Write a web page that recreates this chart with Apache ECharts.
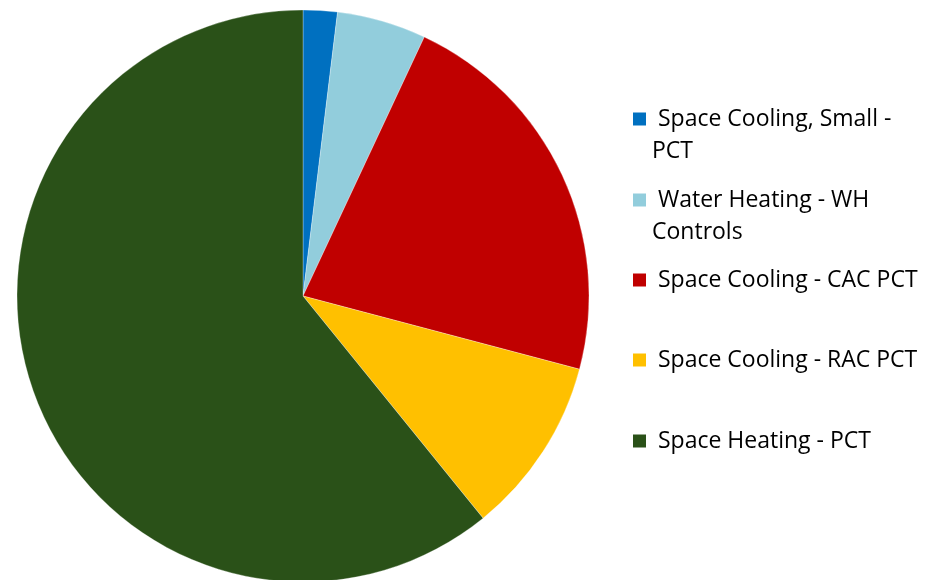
<!DOCTYPE html>
<html>
<head>
<meta charset="utf-8">
<script src="https://cdn.jsdelivr.net/npm/echarts@6/dist/echarts.min.js"></script>
<style>html,body{margin:0;padding:0;background:#fff}#c{width:925px;height:580px}</style>
</head>
<body>
<div id="c"></div>
<script>
var categories = ['Space Cooling, Small - PCT', 'Water Heating - WH Controls', 'Space Cooling - CAC PCT', 'Space Cooling - RAC PCT', 'Space Heating - PCT'];
var values = [1.93, 5.04, 22.15, 10.04, 60.84];
var colors = ['#0070C0', '#92CDDC', '#C00000', '#FFC000', '#2A5118'];
var legendLabels = ['\n Space Cooling, Small -\nPCT', '\n Water Heating - WH\nControls', ' Space Cooling - CAC PCT', ' Space Cooling - RAC PCT', ' Space Heating - PCT'];
var legendCenters = [119, 200, 280, 360, 441];

var chart = echarts.init(document.getElementById('c'), null, {renderer: 'canvas'});
var LH = 32;
var legends = categories.map(function (name, i) {
  var nLines = legendLabels[i].split('\n').length;
  return {
    orient: 'vertical',
    left: 631,
    top: legendCenters[i] - nLines * LH / 2,
    itemWidth: 15,
    itemHeight: 15,
    itemGap: 0,
    padding: 0,
    icon: 'rect',
    selectedMode: false,
    data: [name],
    formatter: function () { return legendLabels[i]; },
    textStyle: {
      fontFamily: 'Open Sans',
      fontSize: 23,
      color: '#000',
      lineHeight: LH
    }
  };
});

chart.setOption({
  animation: false,
  color: colors,
  legend: legends,
  series: [{
    type: 'pie',
    center: [303, 296],
    radius: 286,
    startAngle: 90,
    clockwise: true,
    label: {show: false},
    labelLine: {show: false},
    emphasis: {disabled: true},
    itemStyle: {borderColor: '#fff', borderWidth: 0.3},
    data: categories.map(function (n, i) {
      return {name: n, value: values[i], itemStyle: {color: colors[i]}};
    })
  }]
});
</script>
</body>
</html>
